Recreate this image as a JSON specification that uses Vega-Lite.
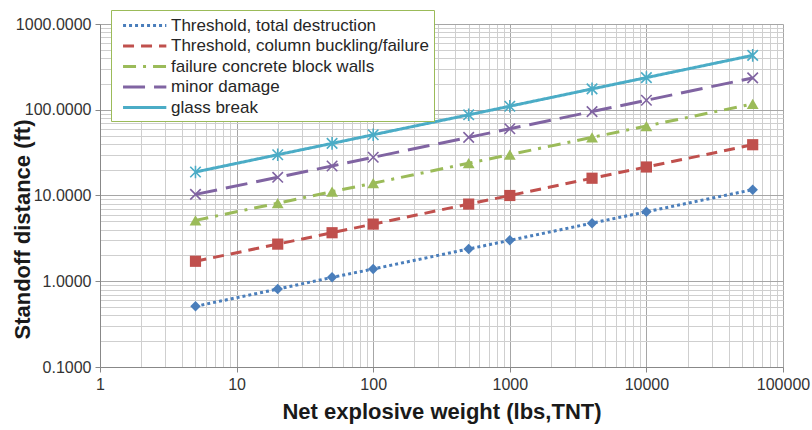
{
  "$schema": "https://vega.github.io/schema/vega-lite/v6.json",
  "width": 683,
  "height": 343,
  "autosize": {"type": "none"},
  "padding": {"left": 100, "top": 24, "right": 29, "bottom": 63},
  "background": "white",
  "config": {
    "font": "Liberation Sans",
    "view": {"stroke": null}
  },
  "data": {
    "values": [
      {"w": 5, "d": 0.51, "series": "Threshold, total destruction"},
      {"w": 20, "d": 0.81, "series": "Threshold, total destruction"},
      {"w": 50, "d": 1.11, "series": "Threshold, total destruction"},
      {"w": 100, "d": 1.39, "series": "Threshold, total destruction"},
      {"w": 500, "d": 2.38, "series": "Threshold, total destruction"},
      {"w": 1000, "d": 3.0, "series": "Threshold, total destruction"},
      {"w": 4000, "d": 4.76, "series": "Threshold, total destruction"},
      {"w": 10000, "d": 6.46, "series": "Threshold, total destruction"},
      {"w": 60000, "d": 11.7, "series": "Threshold, total destruction"},
      {"w": 5, "d": 1.71, "series": "Threshold, column buckling/failure"},
      {"w": 20, "d": 2.71, "series": "Threshold, column buckling/failure"},
      {"w": 50, "d": 3.68, "series": "Threshold, column buckling/failure"},
      {"w": 100, "d": 4.64, "series": "Threshold, column buckling/failure"},
      {"w": 500, "d": 7.94, "series": "Threshold, column buckling/failure"},
      {"w": 1000, "d": 10.0, "series": "Threshold, column buckling/failure"},
      {"w": 4000, "d": 15.9, "series": "Threshold, column buckling/failure"},
      {"w": 10000, "d": 21.5, "series": "Threshold, column buckling/failure"},
      {"w": 60000, "d": 39.1, "series": "Threshold, column buckling/failure"},
      {"w": 5, "d": 5.13, "series": "failure concrete block walls"},
      {"w": 20, "d": 8.14, "series": "failure concrete block walls"},
      {"w": 50, "d": 11.1, "series": "failure concrete block walls"},
      {"w": 100, "d": 13.9, "series": "failure concrete block walls"},
      {"w": 500, "d": 23.8, "series": "failure concrete block walls"},
      {"w": 1000, "d": 30.0, "series": "failure concrete block walls"},
      {"w": 4000, "d": 47.6, "series": "failure concrete block walls"},
      {"w": 10000, "d": 64.6, "series": "failure concrete block walls"},
      {"w": 60000, "d": 117, "series": "failure concrete block walls"},
      {"w": 5, "d": 10.3, "series": "minor damage"},
      {"w": 20, "d": 16.3, "series": "minor damage"},
      {"w": 50, "d": 22.1, "series": "minor damage"},
      {"w": 100, "d": 27.9, "series": "minor damage"},
      {"w": 500, "d": 47.6, "series": "minor damage"},
      {"w": 1000, "d": 60.0, "series": "minor damage"},
      {"w": 4000, "d": 95.2, "series": "minor damage"},
      {"w": 10000, "d": 129, "series": "minor damage"},
      {"w": 60000, "d": 235, "series": "minor damage"},
      {"w": 5, "d": 18.8, "series": "glass break"},
      {"w": 20, "d": 29.9, "series": "glass break"},
      {"w": 50, "d": 40.5, "series": "glass break"},
      {"w": 100, "d": 51.1, "series": "glass break"},
      {"w": 500, "d": 87.3, "series": "glass break"},
      {"w": 1000, "d": 110, "series": "glass break"},
      {"w": 4000, "d": 175, "series": "glass break"},
      {"w": 10000, "d": 237, "series": "glass break"},
      {"w": 60000, "d": 431, "series": "glass break"}
    ]
  },
  "encoding": {
    "x": {
      "field": "w",
      "type": "quantitative",
      "scale": {"type": "log", "domain": [1, 100000], "nice": false},
      "axis": {
        "title": "Net explosive weight (lbs,TNT)",
        "titleFontSize": 22,
        "titleFontWeight": "bold",
        "titleColor": "#1a1a1a",
        "titlePadding": 9,
        "values": [1,2,3,4,5,6,7,8,9,10,20,30,40,50,60,70,80,90,100,200,300,400,500,600,700,800,900,1000,2000,3000,4000,5000,6000,7000,8000,9000,10000,20000,30000,40000,50000,60000,70000,80000,90000,100000],
        "format": "d",
        "labelExpr": "indexof([1,10,100,1000,10000,100000], datum.value) >= 0 ? datum.label : ''",
        "labelOverlap": false,
        "labelFlush": false,
        "labelFontSize": 16,
        "labelColor": "#333333",
        "labelPadding": 4,
        "tickSize": 5,
        "tickColor": "#888888",
        "tickOpacity": {"condition": {"test": "indexof([1,10,100,1000,10000,100000], datum.value) >= 0", "value": 1}, "value": 0},
        "domainColor": "#888888",
        "grid": true,
        "gridColor": {"condition": {"test": "indexof([1,10,100,1000,10000,100000], datum.value) >= 0", "value": "#a6a6a6"}, "value": "#cfcfcf"},
        "gridWidth": 1
      }
    },
    "y": {
      "field": "d",
      "type": "quantitative",
      "scale": {"type": "log", "domain": [0.1, 1000], "nice": false},
      "axis": {
        "title": "Standoff distance (ft)",
        "titleFontSize": 22,
        "titleFontWeight": "bold",
        "titleColor": "#1a1a1a",
        "titleX": -66,
        "titleY": 205,
        "titleAlign": "center",
        "titleBaseline": "bottom",
        "titleAngle": -90,
        "values": [0.1,0.2,0.3,0.4,0.5,0.6,0.7,0.8,0.9,1,2,3,4,5,6,7,8,9,10,20,30,40,50,60,70,80,90,100,200,300,400,500,600,700,800,900,1000],
        "format": ".4f",
        "labelExpr": "indexof([0.1,1,10,100,1000], datum.value) >= 0 ? datum.label : ''",
        "labelOverlap": false,
        "labelFlush": false,
        "labelFontSize": 16,
        "labelColor": "#333333",
        "labelPadding": 4,
        "tickSize": 5,
        "tickColor": "#888888",
        "tickOpacity": {"condition": {"test": "indexof([0.1,1,10,100,1000], datum.value) >= 0", "value": 1}, "value": 0},
        "domainColor": "#888888",
        "grid": true,
        "gridColor": {"condition": {"test": "indexof([0.1,1,10,100,1000], datum.value) >= 0", "value": "#a6a6a6"}, "value": "#cfcfcf"},
        "gridWidth": 1
      }
    }
  },
  "layer": [
    {
      "mark": {"type": "line", "strokeWidth": 3, "strokeCap": "butt"},
      "encoding": {
        "color": {
          "field": "series",
          "type": "nominal",
          "scale": {
            "domain": ["Threshold, total destruction", "Threshold, column buckling/failure", "failure concrete block walls", "minor damage", "glass break"],
            "range": ["#4a7ebb", "#c0504d", "#9bbb59", "#8064a2", "#4bacc6"]
          },
          "legend": {
            "title": null,
            "orient": "none",
            "legendX": 11,
            "legendY": -14,
            "symbolType": "M-0.4,0L4.6,0",
            "symbolSize": 300,
            "symbolStrokeWidth": 3,
            "labelFontSize": 17,
            "labelColor": "#262626",
            "labelLimit": 400,
            "labelOffset": 34,
            "rowPadding": 1.5,
            "padding": 5,
            "strokeColor": "#9bbb59",
            "fillColor": "white",
            "cornerRadius": 0
          }
        },
        "strokeDash": {
          "field": "series",
          "type": "nominal",
          "scale": {
            "domain": ["Threshold, total destruction", "Threshold, column buckling/failure", "failure concrete block walls", "minor damage", "glass break"],
            "range": [[3, 3], [11, 7], [13, 7, 3, 7], [22, 9], [1, 0]]
          },
          "legend": {
            "title": null,
            "orient": "none",
            "legendX": 11,
            "legendY": -14,
            "symbolType": "M-0.4,0L4.6,0",
            "symbolSize": 300,
            "symbolStrokeWidth": 3,
            "labelFontSize": 17,
            "labelColor": "#262626",
            "labelLimit": 400,
            "labelOffset": 34,
            "rowPadding": 1.5,
            "padding": 5,
            "strokeColor": "#9bbb59",
            "fillColor": "white",
            "cornerRadius": 0
          }
        }
      }
    },
    {
      "transform": [{"filter": "datum.series == 'Threshold, total destruction' || datum.series == 'Threshold, column buckling/failure' || datum.series == 'failure concrete block walls'"}],
      "mark": {"type": "point", "filled": true, "opacity": 1},
      "encoding": {
        "color": {"field": "series", "type": "nominal"},
        "shape": {
          "field": "series",
          "type": "nominal",
          "scale": {
            "domain": ["Threshold, total destruction", "Threshold, column buckling/failure", "failure concrete block walls"],
            "range": ["diamond", "square", "triangle-up"]
          },
          "legend": null
        },
        "size": {
          "field": "series",
          "type": "nominal",
          "scale": {
            "domain": ["Threshold, total destruction", "Threshold, column buckling/failure", "failure concrete block walls"],
            "range": [110, 140, 120]
          },
          "legend": null
        }
      }
    },
    {
      "transform": [{"filter": "datum.series == 'minor damage' || datum.series == 'glass break'"}],
      "mark": {"type": "point", "filled": false, "opacity": 1, "strokeWidth": 1.6, "size": 110},
      "encoding": {
        "color": {"field": "series", "type": "nominal"},
        "shape": {
          "field": "series",
          "type": "nominal",
          "scale": {
            "domain": ["minor damage", "glass break"],
            "range": ["M-1,-1L1,1M-1,1L1,-1", "M-1,-1L1,1M-1,1L1,-1M0,-1.2L0,1.2"]
          },
          "legend": null
        }
      }
    }
  ],
  "resolve": {"scale": {"shape": "independent", "size": "independent"}}
}
